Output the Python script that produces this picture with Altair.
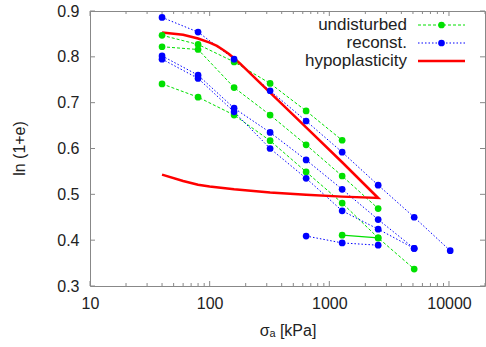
import altair as alt
import pandas as pd

# ---------------- data ----------------
und1_x = [40, 80, 160, 320, 640, 1280]
und1_y = [0.847, 0.827, 0.789, 0.742, 0.682, 0.618]
und2_x = [40, 80, 160, 320, 640, 1280, 2560]
und2_y = [0.822, 0.816, 0.733, 0.673, 0.608, 0.540, 0.469]
und3_x = [40, 80, 160, 320, 640, 1280, 2560, 5120]
und3_y = [0.741, 0.712, 0.673, 0.617, 0.549, 0.481, 0.405, 0.337]
und4_x = [1280, 2560]
und4_y = [0.411, 0.405]

rec1_x = [40, 80, 160, 320, 640, 1280, 2560, 5120, 10240]
rec1_y = [0.886, 0.854, 0.795, 0.726, 0.660, 0.592, 0.520, 0.450, 0.377]
rec2_x = [40, 80, 160, 320, 640, 1280, 2560, 5120]
rec2_y = [0.802, 0.760, 0.688, 0.635, 0.575, 0.511, 0.445, 0.382]
rec3_x = [40, 80, 160, 320, 640, 1280, 2560, 5120]
rec3_y = [0.795, 0.753, 0.680, 0.600, 0.535, 0.464, 0.424, 0.382]
rec4_x = [640, 1280, 2560]
rec4_y = [0.409, 0.394, 0.389]

hypo_x = [40, 60, 80, 100, 115, 130, 145, 160, 180, 320, 640, 1280, 2560,
          1280, 640, 320, 160, 100, 80, 60, 40]
hypo_y = [0.853, 0.848, 0.840, 0.831, 0.824, 0.815, 0.806, 0.797, 0.785,
          0.722, 0.646, 0.570, 0.492,
          0.495, 0.499, 0.504, 0.511, 0.517, 0.521, 0.529, 0.543]

legend_labels = ["undisturbed", "reconst.", "hypoplasticity"]

x_major = [10, 100, 1000, 10000]
x_minor = [20, 30, 40, 50, 60, 70, 80, 90,
           200, 300, 400, 500, 600, 700, 800, 900,
           2000, 3000, 4000, 5000, 6000, 7000, 8000, 9000, 20000]
y_major = [0.3, 0.4, 0.5, 0.6, 0.7, 0.8, 0.9]

# ---------------- tables ----------------
rows = []
def add(kind, sid, xs, ys, solid=False):
    for i, (x, y) in enumerate(zip(xs, ys)):
        rows.append(dict(kind=kind, sid=sid, idx=i, sigma=x, lne=y, solid=solid))

add("und", "u1", und1_x, und1_y)
add("und", "u2", und2_x, und2_y)
add("und", "u3", und3_x, und3_y)
add("und", "u4", und4_x, und4_y, solid=True)
add("rec", "r1", rec1_x, rec1_y)
add("rec", "r2", rec2_x, rec2_y)
add("rec", "r3", rec3_x, rec3_y)
add("rec", "r4", rec4_x, rec4_y)
add("hyp", "h", hypo_x, hypo_y)
df = pd.DataFrame(rows)

W, H = 395, 275
GREEN = "#00e000"
BLUE = "#0000ff"
RED = "#ff0000"
GRAY = "#888888"
TXT = "#222222"
FONT = "Liberation Sans"

xscale = alt.Scale(type="log", domain=[10, 20000], nice=False)
yscale = alt.Scale(domain=[0.3, 0.9], nice=False, zero=False)

x_axis = alt.Axis(values=x_major, format="d", tickSize=0, domain=False, grid=False,
                  labelFlush=False, labelOverlap=False, labelFont=FONT, labelFontSize=16,
                  labelColor=TXT, labelPadding=9,
                  title="σₐ [kPa]", titleFont=FONT, titleFontSize=16, titleFontWeight="normal",
                  titleColor=TXT, titleX=W / 2, titleY=49, titleAlign="center",
                  titleBaseline="alphabetic")
y_axis = alt.Axis(values=y_major, format=".1f", tickSize=0, domain=False, grid=False,
                  labelFont=FONT, labelFontSize=16, labelColor=TXT, labelPadding=11,
                  title="ln (1+e)", titleFont=FONT, titleFontSize=16, titleFontWeight="normal",
                  titleColor=TXT, titleAngle=270, titleX=-71, titleY=137,
                  titleAlign="center", titleBaseline="middle")

XF = alt.X("sigma:Q", scale=xscale, axis=x_axis)
YF = alt.Y("lne:Q", scale=yscale, axis=y_axis)

base = alt.Chart(df)

und_dash = base.transform_filter("datum.kind == 'und' && !datum.solid").mark_line(
    color=GREEN, strokeWidth=1, strokeDash=[3, 2]).encode(
    x=XF, y=YF, detail="sid:N", order="idx:Q")
und_solid = base.transform_filter("datum.kind == 'und' && datum.solid").mark_line(
    color=GREEN, strokeWidth=1.2).encode(
    x=XF, y=YF, detail="sid:N", order="idx:Q")
rec_line = base.transform_filter("datum.kind == 'rec'").mark_line(
    color=BLUE, strokeWidth=1, strokeDash=[1.5, 2]).encode(
    x=XF, y=YF, detail="sid:N", order="idx:Q")
und_pts = base.transform_filter("datum.kind == 'und'").mark_circle(
    color=GREEN, size=45, opacity=1).encode(x=XF, y=YF)
rec_pts = base.transform_filter("datum.kind == 'rec'").mark_circle(
    color=BLUE, size=45, opacity=1).encode(x=XF, y=YF)
hyp_line = base.transform_filter("datum.kind == 'hyp'").mark_line(
    color=RED, strokeWidth=2.5).encode(x=XF, y=YF, order="idx:Q")

# ---------------- inward ticks on all four sides ----------------
xmaj_df = pd.DataFrame({"sigma": x_major})
xmin_df = pd.DataFrame({"sigma": x_minor})
ymaj_df = pd.DataFrame({"lne": y_major})

def xticks(d, ln):
    b = alt.Chart(d).mark_rule(color=GRAY, strokeWidth=1)
    return [b.encode(x=XF, y=alt.value(H), y2=alt.value(H - ln)),
            b.encode(x=XF, y=alt.value(0), y2=alt.value(ln))]

def yticks(d, ln):
    b = alt.Chart(d).mark_rule(color=GRAY, strokeWidth=1)
    return [b.encode(y=YF, x=alt.value(0), x2=alt.value(ln)),
            b.encode(y=YF, x=alt.value(W - ln), x2=alt.value(W))]

ticks = xticks(xmaj_df, 5) + xticks(xmin_df, 3) + yticks(ymaj_df, 5)

# ---------------- manual legend (gnuplot style) ----------------
one = pd.DataFrame({"d": [0]})
leg_y = [14, 32, 50]
leg = []
for lab, yy in zip(legend_labels, leg_y):
    leg.append(alt.Chart(one).mark_text(align="right", baseline="middle", font=FONT,
                                        fontSize=17, color=TXT).encode(
        x=alt.value(317), y=alt.value(yy), text=alt.value(lab)))
leg.append(alt.Chart(one).mark_rule(color=GREEN, strokeWidth=1, strokeDash=[3, 2]).encode(
    x=alt.value(328), x2=alt.value(375), y=alt.value(leg_y[0])))
leg.append(alt.Chart(one).mark_circle(color=GREEN, size=45, opacity=1).encode(
    x=alt.value(351.5), y=alt.value(leg_y[0])))
leg.append(alt.Chart(one).mark_rule(color=BLUE, strokeWidth=1, strokeDash=[1.5, 2]).encode(
    x=alt.value(328), x2=alt.value(375), y=alt.value(leg_y[1])))
leg.append(alt.Chart(one).mark_circle(color=BLUE, size=45, opacity=1).encode(
    x=alt.value(351.5), y=alt.value(leg_y[1])))
leg.append(alt.Chart(one).mark_rule(color=RED, strokeWidth=2.5).encode(
    x=alt.value(328), x2=alt.value(375), y=alt.value(leg_y[2])))

chart = alt.layer(und_dash, und_solid, rec_line, hyp_line, und_pts, rec_pts, *ticks, *leg).properties(
    width=W, height=H,
    padding={"left": 90, "top": 11, "right": 1, "bottom": 61},
    autosize=alt.AutoSizeParams(type="none"),
    background="white",
).configure_view(stroke=GRAY, strokeWidth=1)

chart.save("out.html", embed_options={"renderer": "svg", "actions": False})
